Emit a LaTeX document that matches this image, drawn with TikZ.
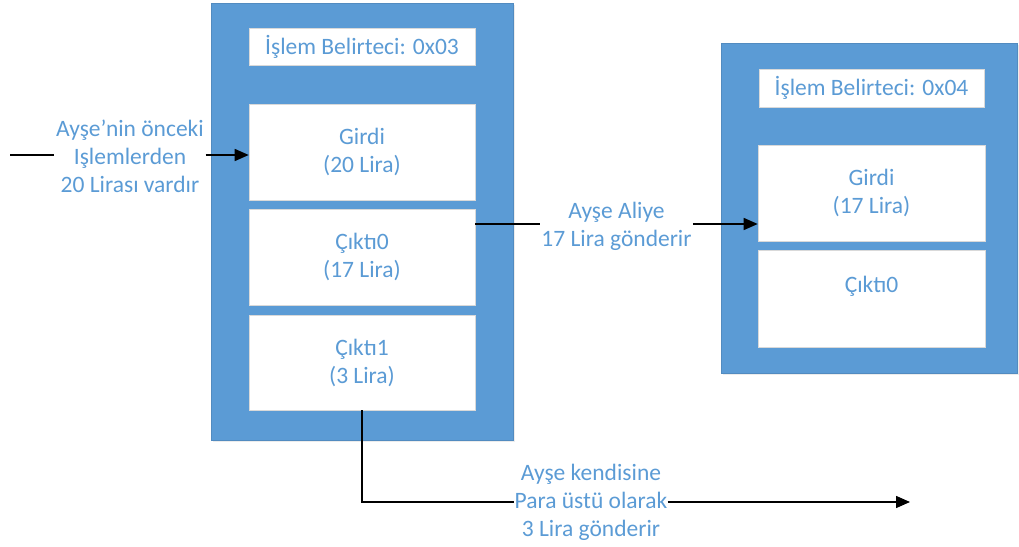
\documentclass[tikz,border=0pt]{standalone}
\usepackage{fontspec}
\setmainfont{Carlito}
\usetikzlibrary{arrows.meta,shadows}
\definecolor{officeblue}{HTML}{5B9BD5}
\tikzset{
  txfont/.style={font=\fontsize{23.5}{28}\selectfont},
  txbox/.style={rectangle, fill=officeblue, draw=officeblue!90!black, line width=0.2pt,
    drop shadow={opacity=0.15, shadow xshift=2pt, shadow yshift=-2pt}},
  field/.style={rectangle, fill=white, draw=black!15, line width=0.6pt, txfont,
    text=officeblue, align=center, inner sep=0pt},
  note/.style={txfont, text=officeblue, align=center, inner sep=1.5pt},
  flow/.style={line width=1.5pt, black},
  tip/.style={-{Triangle[length=14pt,width=12pt]}}
}
\begin{document}
\begin{tikzpicture}[x=1pt,y=-1pt]
\useasboundingbox (0,0) rectangle (1019,546);

% transaction 0x03
\node[txbox, minimum width=302pt, minimum height=437pt] (tx1) at (362,221.5) {};
\node[field, minimum width=226pt, minimum height=37pt] (hdr1) at (362,46.5) {İşlem Belirteci: 0x03};
\node[field, minimum width=226pt, minimum height=96pt] (in1) at (362,152) {Girdi\\(20 Lira)};
\node[field, minimum width=226pt, minimum height=96pt] (out10) at (362,257) {Çıktı0\\(17 Lira)};
\node[field, minimum width=226pt, minimum height=95pt] (out11) at (362,362.5) {Çıktı1\\(3 Lira)};

% transaction 0x04
\node[txbox, minimum width=296pt, minimum height=330pt] (tx2) at (869,208) {};
\node[field, minimum width=225pt, minimum height=38pt] (hdr2) at (871.5,88) {İşlem Belirteci: 0x04};
\node[field, minimum width=227pt, minimum height=96pt] (in2) at (871.5,193) {Girdi\\(17 Lira)};
\node[field, minimum width=227pt, minimum height=97pt] (out20) at (871.5,298.5) {Çıktı0\\\mbox{}};

% incoming funds
\coordinate (src) at (10,155);
\node[note] (lbl1) at (130,156) {Ayşe’nin önceki\\Işlemlerden\\20 Lirası vardır};
\draw[flow] (src) -- (src -| lbl1.west);
\draw[flow,tip] (lbl1.east |- src) -- (src -| in1.west);

% payment to Aliye
\coordinate (pay) at (475,224);
\node[note, inner sep=1pt] (lbl2) at (616.5,226) {Ayşe Aliye\\17 Lira gönderir};
\draw[flow] (pay) -- (pay -| lbl2.west);
\draw[flow,tip] (pay -| lbl2.east) -- (pay -| in2.west);

% change back to Ayşe
\coordinate (bend) at (362,502);
\coordinate (dst) at (910,502);
\node[note, inner sep=0pt] (lbl3) at (591,502) {Ayşe kendisine\\Para üstü olarak\\3 Lira gönderir};
\draw[flow] (out11.south) -- (bend) -- (bend -| lbl3.west);
\draw[flow,tip] (bend -| lbl3.east) -- (dst);
\end{tikzpicture}
\end{document}
